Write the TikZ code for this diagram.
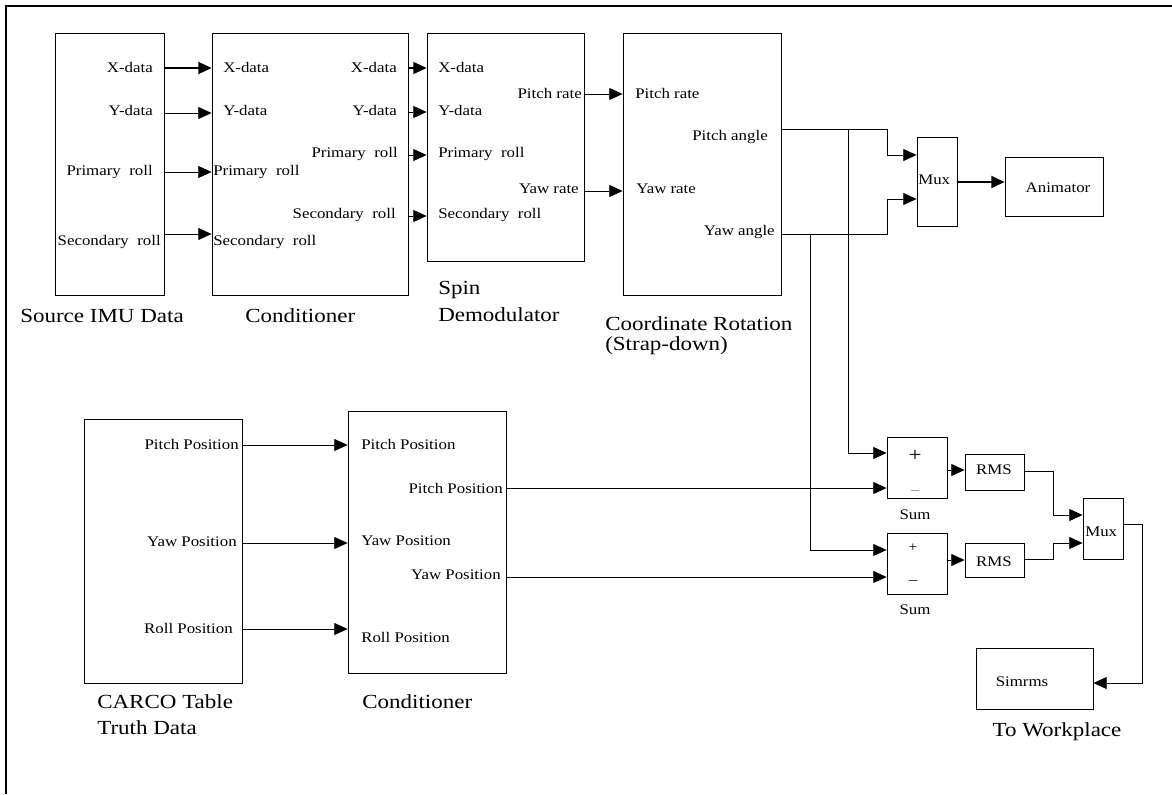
\documentclass[tikz,border=0pt]{standalone}
\usepackage{fontspec}
\setmainfont{Liberation Serif}[FakeStretch=1.15]
\usetikzlibrary{arrows.meta,fit}
\begin{document}
\begin{tikzpicture}[x=0.75pt,y=-0.75pt,
  blk/.style={draw, line width=0.6pt, inner sep=0pt},
  lbl/.style={font=\fontsize{11}{13}\selectfont, inner sep=0pt},
  captxt/.style={font=\fontsize{15}{18}\selectfont, inner sep=0pt, anchor=west},
  wire/.style={line width=0.6pt},
  arr/.style={wire, -{Triangle[length=10pt,width=9pt]}},
  thk/.style={line width=1.4pt}]
\useasboundingbox (0,0) rectangle (1172,794);
\draw[line width=0.8pt] (6,794) -- (6,6) -- (1172,6);

% blocks
\node[blk, fit={(55,33)(164,295)}] (src) {};
\node[blk, fit={(212,33)(408,295)}] (cA) {};
\node[blk, fit={(427,33)(584,261)}] (spin) {};
\node[blk, fit={(623,33)(781,295)}] (rot) {};
\node[blk, fit={(917,137)(957,226)}] (mux1) {};
\node[blk, fit={(1005,157)(1103,216)}] (anim) {};
\node[blk, fit={(887,437)(947,498)}] (sum1) {};
\node[blk, fit={(887,533)(947,594)}] (sum2) {};
\node[blk, fit={(965,454)(1024,490)}] (rms1) {};
\node[blk, fit={(965,543)(1024,577)}] (rms2) {};
\node[blk, fit={(1083,498)(1123,559)}] (mux2) {};
\node[blk, fit={(976,648)(1093,709)}] (simrms) {};
\node[blk, fit={(84,419)(242,683)}] (carco) {};
\node[blk, fit={(348,411)(506,673)}] (cB) {};

% source labels
\node[lbl, anchor=east] (s1) at (153,67) {X-data};
\node[lbl, anchor=east] (s2) at (153,110) {Y-data};
\node[lbl, anchor=east] (s3) at (153,172) {Primary\ \ roll};
\node[lbl, anchor=east] (s4) at (161,242) {Secondary\ \ roll};
% conditioner A
\node[lbl, anchor=west] (a1) at (223,67) {X-data};
\node[lbl, anchor=west] (a2) at (223,110) {Y-data};
\node[lbl, anchor=west] (a3) at (213,172) {Primary\ \ roll};
\node[lbl, anchor=west] (a4) at (213,242) {Secondary\ \ roll};
\node[lbl, anchor=east] (a5) at (397,67) {X-data};
\node[lbl, anchor=east] (a6) at (397,110) {Y-data};
\node[lbl, anchor=east] (a7) at (398,154) {Primary\ \ roll};
\node[lbl, anchor=east] (a8) at (396,215) {Secondary\ \ roll};
% spin
\node[lbl, anchor=west] (p1) at (438,67) {X-data};
\node[lbl, anchor=west] (p2) at (438,110) {Y-data};
\node[lbl, anchor=west] (p3) at (438,154) {Primary\ \ roll};
\node[lbl, anchor=west] (p4) at (438,215) {Secondary\ \ roll};
\node[lbl, anchor=east] (p5) at (582,93) {Pitch rate};
\node[lbl, anchor=east] (p6) at (579,189) {Yaw rate};
% rotation
\node[lbl, anchor=west] (r1) at (635,93) {Pitch rate};
\node[lbl, anchor=west] (r2) at (636,189) {Yaw rate};
\node[lbl, anchor=east] (r3) at (768,137) {Pitch angle};
\node[lbl, anchor=east] (r4) at (775,232) {Yaw angle};
% right side
\node[lbl, anchor=west] (m1) at (918,180) {Mux};
\node[lbl] (an) at (1058,188) {Animator};
\node[inner sep=0pt, font=\fontsize{15}{15}\selectfont] (pl1) at (915,456) {+};
\node[inner sep=0pt, font=\fontsize{11}{11}\selectfont, text=black!45] (mi1) at (915,493) {\textendash};
\node[inner sep=0pt, font=\fontsize{10}{10}\selectfont] (pl2) at (913,548) {+};
\node[inner sep=0pt, font=\fontsize{11}{11}\selectfont] (mi2) at (913,583) {\textendash};
\node[lbl] (su1) at (915,515) {Sum};
\node[lbl] (su2) at (915,610) {Sum};
\node[lbl] (rm1) at (994,470) {RMS};
\node[lbl] (rm2) at (994,562) {RMS};
\node[lbl, anchor=west] (m2) at (1085,532) {Mux};
\node[lbl] (sm) at (1022,682) {Simrms};
% bottom labels
\node[lbl, anchor=east] (c1) at (239,444) {Pitch Position};
\node[lbl, anchor=east] (c2) at (237,542) {Yaw Position};
\node[lbl, anchor=east] (c3) at (233,628) {Roll Position};
\node[lbl, anchor=west] (b1) at (361,444) {Pitch Position};
\node[lbl, anchor=west] (b2) at (361,541) {Yaw Position};
\node[lbl, anchor=west] (b3) at (361,637) {Roll Position};
\node[lbl, anchor=east] (b4) at (503,488) {Pitch Position};
\node[lbl, anchor=east] (b5) at (501,575) {Yaw Position};

% captions
\node[captxt] (t1) at (20,316) {Source IMU Data};
\node[captxt] (t2) at (245,316) {Conditioner};
\node[captxt] (t3) at (438,290) {Spin};
\node[captxt] (t4) at (438,315) {Demodulator};
\node[captxt] (t5) at (605,324) {Coordinate Rotation};
\node[captxt] (t6) at (605,346) {(Strap-down)};
\node[captxt] (t7) at (97,702) {CARCO Table};
\node[captxt] (t8) at (97,728) {Truth Data};
\node[captxt] (t9) at (362,702) {Conditioner};
\node[captxt, anchor=center] (t10) at (1057,732) {To Workplace};

% connectors top chain
\draw[arr, thk] (src.east |- 0,68) -- (cA.west |- 0,68);
\draw[arr] (src.east |- 0,113) -- (cA.west |- 0,113);
\draw[arr] (src.east |- 0,172) -- (cA.west |- 0,172);
\draw[arr] (src.east |- 0,234) -- (cA.west |- 0,234);
\draw[arr, line width=1pt] (cA.east |- 0,68) -- (spin.west |- 0,68);
\draw[arr] (cA.east |- 0,112) -- (spin.west |- 0,112);
\draw[arr] (cA.east |- 0,155) -- (spin.west |- 0,155);
\draw[arr] (cA.east |- 0,216) -- (spin.west |- 0,216);
\draw[arr] (spin.east |- 0,94) -- (rot.west |- 0,94);
\draw[arr] (spin.east |- 0,191) -- (rot.west |- 0,191);
% rotation outputs
\draw[arr] (rot.east |- 0,129) -- (887,129) |- (mux1.west |- 0,155);
\draw[arr] (848,129) |- (sum1.west |- 0,453);
\draw[arr] (rot.east |- 0,234) -- (887,234) |- (mux1.west |- 0,199);
\draw[arr] (810,234) |- (sum2.west |- 0,550);
\draw[arr, thk] (mux1.east |- 0,182) -- (anim.west |- 0,182);
% bottom chain
\draw[arr] (carco.east |- 0,445) -- (cB.west |- 0,445);
\draw[arr] (carco.east |- 0,543) -- (cB.west |- 0,543);
\draw[arr] (carco.east |- 0,629) -- (cB.west |- 0,629);
\draw[arr] (cB.east |- 0,488) -- (sum1.west |- 0,488);
\draw[arr] (cB.east |- 0,577) -- (sum2.west |- 0,577);
\draw[arr] (sum1.east |- 0,470) -- (rms1.west |- 0,470);
\draw[arr] (sum2.east |- 0,560) -- (rms2.west |- 0,560);
\draw[arr] (rms1.east |- 0,471) -| (1053,515) -- (mux2.west |- 0,515);
\draw[arr] (rms2.east |- 0,559) -| (1053,543) -- (mux2.west |- 0,543);
\draw[arr] (mux2.east |- 0,524) -| (1142,683) -- (simrms.east |- 0,683);
\end{tikzpicture}
\end{document}
